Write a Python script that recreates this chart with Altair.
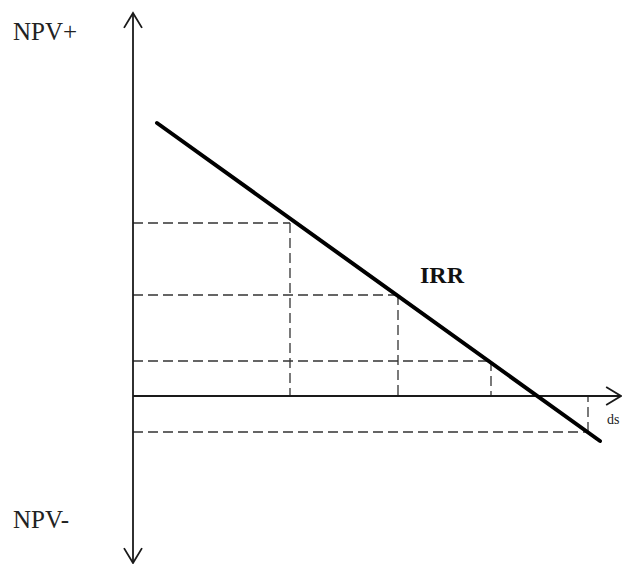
import altair as alt
import pandas as pd

# Coordinates: x = discount rate (arbitrary units, origin at the vertical axis)
#              y = NPV (arbitrary units, origin at the horizontal axis)
npv_line_rate = [24, 467]
npv_line_value = [273, -45]

guide_rate = [157, 265, 358, 455]
guide_npv = [173, 101, 35, -36]

axis_y_extent = [-167, 383]   # vertical NPV axis
axis_x_extent = [0, 488]      # horizontal rate axis

label_text = ["NPV+", "NPV-"]
label_rate = [-120, -120]
label_npv = [356, -132]
rate_label = "ds"
rate_label_rate = 474
rate_label_npv = -28
irr_label = "IRR"
irr_rate = 287
irr_npv = 113

X_DOMAIN = [-125, 489]
Y_DOMAIN = [-168, 388]

xs = alt.Scale(domain=X_DOMAIN, nice=False, zero=False)
ys = alt.Scale(domain=Y_DOMAIN, nice=False, zero=False)

df_line = pd.DataFrame({"rate": npv_line_rate, "npv": npv_line_value})
df_guides = pd.DataFrame({"rate": guide_rate, "npv": guide_npv, "zero": [0] * len(guide_rate)})
df_vaxis = pd.DataFrame({"rate": [0], "y1": [axis_y_extent[0]], "y2": [axis_y_extent[1]]})
df_haxis = pd.DataFrame({"npv": [0], "x1": [axis_x_extent[0]], "x2": [axis_x_extent[1]]})
df_arrows = pd.DataFrame({
    "rate": [0, 0, axis_x_extent[1]],
    "npv": [axis_y_extent[1], axis_y_extent[0], 0],
    "angle": [0, 180, 90],
})
df_labels = pd.DataFrame({"label": label_text, "rate": label_rate, "npv": label_npv})
df_ratelab = pd.DataFrame({"label": [rate_label], "rate": [rate_label_rate], "npv": [rate_label_npv]})
df_irr = pd.DataFrame({"label": [irr_label], "rate": [irr_rate], "npv": [irr_npv]})

X = lambda f: alt.X(f, type="quantitative", scale=xs, axis=None)
Y = lambda f: alt.Y(f, type="quantitative", scale=ys, axis=None)

vaxis = alt.Chart(df_vaxis).mark_rule(color="#1a1a1a", strokeWidth=1.8).encode(
    x=X("rate"), y=Y("y1"), y2="y2")
haxis = alt.Chart(df_haxis).mark_rule(color="#1a1a1a", strokeWidth=1.8).encode(
    y=Y("npv"), x=X("x1"), x2="x2")

arrows = alt.Chart(df_arrows).mark_point(
    shape="M -1 1.65 L 0 0 L 1 1.65", filled=False, size=324,
    color="#1a1a1a", strokeWidth=1.8, opacity=1,
).encode(x=X("rate"), y=Y("npv"), angle=alt.Angle("angle:Q", scale=None))

hguides = alt.Chart(df_guides).mark_rule(
    color="#333333", strokeWidth=1.3, strokeDash=[10, 5]
).encode(x=X("zero"), x2="rate", y=Y("npv"))
vguides = alt.Chart(df_guides).mark_rule(
    color="#333333", strokeWidth=1.3, strokeDash=[10, 5]
).encode(x=X("rate"), y=Y("npv"), y2="zero")

npv_line = alt.Chart(df_line).mark_line(
    color="black", strokeWidth=4, strokeCap="round"
).encode(x=X("rate"), y=Y("npv"))

labels = alt.Chart(df_labels).mark_text(
    font="Liberation Serif", fontSize=25, align="left", baseline="alphabetic", color="#222"
).encode(x=X("rate"), y=Y("npv"), text="label")

ratelab = alt.Chart(df_ratelab).mark_text(
    font="Liberation Serif", fontSize=14, align="left", baseline="alphabetic", color="#222"
).encode(x=X("rate"), y=Y("npv"), text="label")

irr = alt.Chart(df_irr).mark_text(
    font="Liberation Serif", fontSize=24, fontWeight="bold", align="left",
    baseline="alphabetic", color="#111"
).encode(x=X("rate"), y=Y("npv"), text="label")

chart = alt.layer(
    hguides, vguides, vaxis, haxis, arrows, npv_line, labels, ratelab, irr
).properties(
    width=614, height=556, padding=0,
    autosize=alt.AutoSizeParams(type="none"),
    background="white",
).configure_view(stroke=None)

chart.save("out.html", embed_options={"renderer": "svg", "actions": False})
